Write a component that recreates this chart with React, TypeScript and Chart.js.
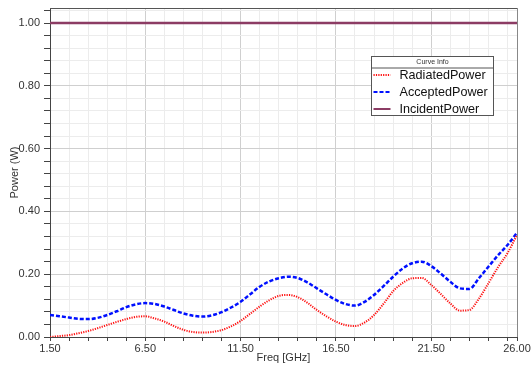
import React, { useEffect, useRef } from "react";
import { Chart, registerables } from "chart.js";

Chart.register(...registerables);

const freq = [
  1.5, 2.0, 2.5, 3.0, 3.5, 4.0, 4.5, 5.0, 5.5, 6.0, 6.5, 7.0, 7.5, 8.0, 8.5, 9.0, 9.5, 10.0,
  10.5, 11.0, 11.5, 12.0, 12.5, 13.0, 13.5, 14.0, 14.5, 15.0, 15.5, 16.0, 16.5, 17.0, 17.5,
  18.0, 18.5, 19.0, 19.5, 20.0, 20.5, 21.0, 21.5, 22.0, 22.5, 23.0, 23.5, 24.0, 24.5, 25.0,
  25.5, 26.0,
];

const radiatedPower = [
  0.0, 0.003, 0.006, 0.012, 0.019, 0.028, 0.038, 0.048, 0.057, 0.064, 0.066, 0.059, 0.049,
  0.035, 0.023, 0.016, 0.014, 0.016, 0.022, 0.034, 0.051, 0.074, 0.097, 0.117, 0.131, 0.134,
  0.127, 0.109, 0.086, 0.066, 0.049, 0.038, 0.035, 0.046, 0.07, 0.106, 0.146, 0.172, 0.187,
  0.188, 0.166, 0.137, 0.107, 0.084, 0.086, 0.122, 0.171, 0.222, 0.267, 0.325,
];

const acceptedPower = [
  0.07, 0.066, 0.062, 0.058, 0.057, 0.061, 0.07, 0.082, 0.095, 0.104, 0.108, 0.105, 0.097,
  0.086, 0.075, 0.068, 0.065, 0.069, 0.079, 0.094, 0.112, 0.136, 0.16, 0.177, 0.187, 0.192,
  0.188, 0.174, 0.155, 0.136, 0.118, 0.105, 0.1, 0.112, 0.134, 0.162, 0.192, 0.218, 0.235,
  0.24, 0.226, 0.202, 0.176, 0.155, 0.153, 0.187, 0.224, 0.26, 0.293, 0.332,
];

const incidentPower = freq.map(() => 1.0);

const xMajorTicks = [1.5, 6.5, 11.5, 16.5, 21.5, 26.0];
const yMajorTicks = [0, 0.2, 0.4, 0.6, 0.8, 1.0];

const seriesNames = ["RadiatedPower", "AcceptedPower", "IncidentPower"];
const seriesColors = ["#ff1010", "#0010ff", "#8c3c64"];
const legendTitle = "Curve Info";

const FONT = "'Liberation Sans', Arial, sans-serif";

function isMajor(v: number, majors: number[]) {
  return majors.some((m) => Math.abs(m - v) < 1e-6);
}

const frameAndLegend = {
  id: "frameAndLegend",
  afterDraw(chart: any) {
    const { ctx, chartArea } = chart;
    const { left, right, top, bottom } = chartArea;
    ctx.save();
    // top and right frame
    ctx.strokeStyle = "#555";
    ctx.lineWidth = 1;
    ctx.beginPath();
    ctx.moveTo(left, top + 0.5);
    ctx.lineTo(right + 0.5, top + 0.5);
    ctx.stroke();
    ctx.strokeStyle = "#888";
    ctx.beginPath();
    ctx.moveTo(right + 0.5, top);
    ctx.lineTo(right + 0.5, bottom);
    ctx.stroke();

    // legend box
    const bx = Math.round(right) - 145.5;
    const by = Math.round(top) + 48.5;
    const bw = 122;
    const bh = 59;
    ctx.fillStyle = "#ffffff";
    ctx.fillRect(bx, by, bw, bh);
    ctx.strokeStyle = "#555";
    ctx.lineWidth = 1;
    ctx.strokeRect(bx, by, bw, bh);
    ctx.fillStyle = "#333";
    ctx.font = `7px ${FONT}`;
    ctx.textAlign = "center";
    ctx.textBaseline = "middle";
    ctx.fillText(legendTitle, bx + bw / 2, by + 5.5);
    ctx.beginPath();
    ctx.moveTo(bx, by + 11.5);
    ctx.lineTo(bx + bw, by + 11.5);
    ctx.stroke();

    const dashes = [[1.2, 1.2], [4, 2], []];
    const widths = [2, 2, 2];
    ctx.font = `12.6px ${FONT}`;
    ctx.textAlign = "left";
    seriesNames.forEach((name, i) => {
      const yy = by + 18.5 + i * 17;
      ctx.strokeStyle = seriesColors[i];
      ctx.lineWidth = widths[i];
      ctx.setLineDash(dashes[i]);
      ctx.beginPath();
      ctx.moveTo(bx + 2, yy);
      ctx.lineTo(bx + 19, yy);
      ctx.stroke();
      ctx.setLineDash([]);
      ctx.fillStyle = "#111";
      ctx.fillText(name, bx + 28, yy + 0.5);
    });
    ctx.restore();
  },
};

export default function App() {
  const ref = useRef<HTMLCanvasElement | null>(null);

  useEffect(() => {
    document.body.style.margin = "0";
    if (!ref.current) return;
    const toPts = (arr: number[]) => arr.map((y, i) => ({ x: freq[i], y }));
    const chart = new Chart(ref.current, {
      type: "line",
      data: {
        datasets: [
          {
            label: seriesNames[0],
            data: toPts(radiatedPower),
            borderColor: seriesColors[0],
            borderWidth: 2,
            borderDash: [1.2, 1.2],
            pointRadius: 0,
            cubicInterpolationMode: "monotone",
            fill: false,
          },
          {
            label: seriesNames[1],
            data: toPts(acceptedPower),
            borderColor: seriesColors[1],
            borderWidth: 2.5,
            borderDash: [4, 2],
            pointRadius: 0,
            cubicInterpolationMode: "monotone",
            fill: false,
          },
          {
            label: seriesNames[2],
            data: toPts(incidentPower),
            borderColor: seriesColors[2],
            borderWidth: 2.5,
            pointRadius: 0,
            fill: false,
          },
        ],
      },
      options: {
        responsive: false,
        animation: false,
        events: [],
        layout: { padding: { left: 0, right: 14, top: 8, bottom: 0 } },
        plugins: {
          legend: { display: false },
          tooltip: { enabled: false },
        },
        scales: {
          x: {
            type: "linear",
            min: 1.5,
            max: 26,
            afterBuildTicks: (scale: any) => {
              const t: any[] = [];
              for (let v = 1.5; v < 26; v += 1) t.push({ value: v });
              t.push({ value: 26 });
              scale.ticks = t;
            },
            afterFit: (scale: any) => {
              scale.height = 28;
              scale.paddingLeft = 0;
              scale.paddingRight = 0;
            },
            border: { color: "#444", width: 1 },
            grid: {
              color: (c: any) => (isMajor(c.tick?.value, xMajorTicks) ? "#cfcfcf" : "#ececec"),
              tickColor: "#444",
              tickLength: 4,
            },
            ticks: {
              autoSkip: false,
              maxRotation: 0,
              padding: 1,
              color: "#333",
              font: { family: FONT, size: 11 },
              callback: (v: any) => (isMajor(Number(v), xMajorTicks) ? Number(v).toFixed(2) : ""),
            },
            title: {
              display: true,
              text: "Freq [GHz]",
              color: "#333",
              font: { family: FONT, size: 11 },
              padding: { top: 0, bottom: 0 },
            },
          },
          y: {
            type: "linear",
            min: 0,
            max: 1.048,
            afterBuildTicks: (scale: any) => {
              const t: any[] = [];
              for (let i = 0; i <= 26; i++) t.push({ value: Math.round(i * 4) / 100 });
              scale.ticks = t;
            },
            afterFit: (scale: any) => {
              scale.width = 50;
              scale.paddingTop = 0;
              scale.paddingBottom = 0;
            },
            border: { color: "#444", width: 1 },
            grid: {
              color: (c: any) => (isMajor(c.tick?.value, yMajorTicks) ? "#cfcfcf" : "#ececec"),
              tickColor: "#444",
              tickLength: 6,
            },
            ticks: {
              autoSkip: false,
              padding: 4,
              color: "#333",
              font: { family: FONT, size: 11 },
              callback: (v: any) => (isMajor(Number(v), yMajorTicks) ? Number(v).toFixed(2) : ""),
            },
            title: {
              display: true,
              text: "Power (W)",
              color: "#333",
              font: { family: FONT, size: 11 },
              padding: { top: 8, bottom: 0 },
            },
          },
        },
      },
      plugins: [frameAndLegend],
    });
    return () => chart.destroy();
  }, []);

  return <canvas ref={ref} width={531} height={365} style={{ display: "block" }} />;
}
